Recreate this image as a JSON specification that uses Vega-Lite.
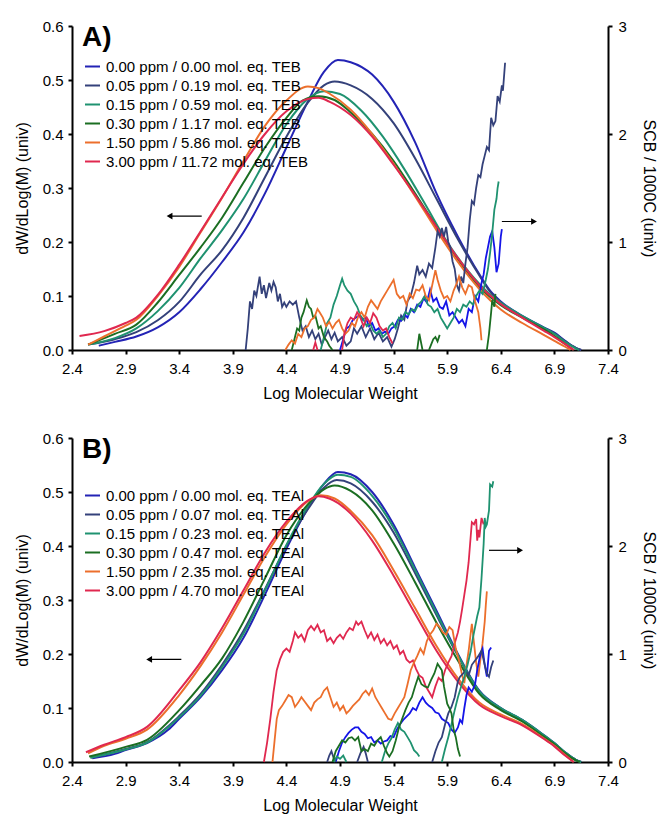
{
"$schema": "https://vega.github.io/schema/vega-lite/v6.json",
"padding": {"top": 19, "left": 14, "right": 2, "bottom": 5},
"spacing": 30,
"config": {
 "font": "Liberation Sans",
 "view": {"stroke": null},
 "axis": {"grid": false, "labelFlush": false, "labelOverlap": false, "domainColor": "#000", "domainWidth": 2, "tickColor": "#000", "tickWidth": 2, "tickSize": 4, "labelColor": "#000", "labelFontSize": 15, "titleFontSize": 16, "titleFontWeight": "normal", "titleColor": "#000", "labelPadding": 5},
 "axisX": {"labelPadding": 7, "titlePadding": 9},
 "axisLeft": {"titlePadding": 12},
 "axisRight": {"titlePadding": 14, "labelPadding": 6},
 "legend": {"orient": "none", "title": null, "symbolType": "stroke", "symbolStrokeWidth": 2, "symbolSize": 225, "labelFontSize": 15, "labelColor": "#000", "rowPadding": 2, "labelOffset": 5, "labelLimit": 400}
},
"datasets": {
 "mwdA": [
  {"c":0,"x":2.65,"y":0.008},{"c":0,"x":2.8,"y":0.015},{"c":0,"x":3.0,"y":0.025},{"c":0,"x":3.2,"y":0.042},{"c":0,"x":3.4,"y":0.07},{"c":0,"x":3.6,"y":0.113},{"c":0,"x":3.8,"y":0.163},{"c":0,"x":4.0,"y":0.218},{"c":0,"x":4.2,"y":0.29},{"c":0,"x":4.4,"y":0.375},{"c":0,"x":4.6,"y":0.46},{"c":0,"x":4.75,"y":0.515},{"c":0,"x":4.88,"y":0.537},{"c":0,"x":5.0,"y":0.533},{"c":0,"x":5.2,"y":0.51},{"c":0,"x":5.4,"y":0.46},{"c":0,"x":5.6,"y":0.385},{"c":0,"x":5.8,"y":0.29},{"c":0,"x":6.0,"y":0.21},{"c":0,"x":6.2,"y":0.14},{"c":0,"x":6.3,"y":0.11},{"c":0,"x":6.4,"y":0.09},{"c":0,"x":6.6,"y":0.063},{"c":0,"x":6.8,"y":0.042},{"c":0,"x":6.9,"y":0.032},{"c":0,"x":7.0,"y":0.017},{"c":0,"x":7.1,"y":0.004},{"c":0,"x":7.15,"y":0},
  {"c":1,"x":2.55,"y":0.01},{"c":1,"x":2.8,"y":0.02},{"c":1,"x":3.0,"y":0.033},{"c":1,"x":3.2,"y":0.055},{"c":1,"x":3.4,"y":0.089},{"c":1,"x":3.6,"y":0.14},{"c":1,"x":3.8,"y":0.185},{"c":1,"x":4.0,"y":0.245},{"c":1,"x":4.2,"y":0.32},{"c":1,"x":4.4,"y":0.395},{"c":1,"x":4.6,"y":0.458},{"c":1,"x":4.75,"y":0.49},{"c":1,"x":4.85,"y":0.497},{"c":1,"x":5.0,"y":0.49},{"c":1,"x":5.2,"y":0.465},{"c":1,"x":5.4,"y":0.42},{"c":1,"x":5.6,"y":0.355},{"c":1,"x":5.8,"y":0.28},{"c":1,"x":6.0,"y":0.205},{"c":1,"x":6.2,"y":0.138},{"c":1,"x":6.3,"y":0.108},{"c":1,"x":6.4,"y":0.088},{"c":1,"x":6.6,"y":0.062},{"c":1,"x":6.8,"y":0.041},{"c":1,"x":6.9,"y":0.031},{"c":1,"x":7.0,"y":0.016},{"c":1,"x":7.1,"y":0.004},{"c":1,"x":7.15,"y":0},
  {"c":2,"x":2.55,"y":0.01},{"c":2,"x":2.8,"y":0.022},{"c":2,"x":3.0,"y":0.04},{"c":2,"x":3.2,"y":0.072},{"c":2,"x":3.4,"y":0.115},{"c":2,"x":3.6,"y":0.17},{"c":2,"x":3.8,"y":0.222},{"c":2,"x":4.0,"y":0.28},{"c":2,"x":4.2,"y":0.35},{"c":2,"x":4.4,"y":0.418},{"c":2,"x":4.6,"y":0.465},{"c":2,"x":4.75,"y":0.479},{"c":2,"x":4.9,"y":0.474},{"c":2,"x":5.1,"y":0.443},{"c":2,"x":5.3,"y":0.395},{"c":2,"x":5.5,"y":0.335},{"c":2,"x":5.7,"y":0.268},{"c":2,"x":5.9,"y":0.2},{"c":2,"x":6.1,"y":0.145},{"c":2,"x":6.3,"y":0.103},{"c":2,"x":6.5,"y":0.075},{"c":2,"x":6.7,"y":0.052},{"c":2,"x":6.9,"y":0.03},{"c":2,"x":7.0,"y":0.015},{"c":2,"x":7.1,"y":0.003},{"c":2,"x":7.13,"y":0},
  {"c":3,"x":2.55,"y":0.01},{"c":3,"x":2.8,"y":0.03},{"c":3,"x":3.0,"y":0.047},{"c":3,"x":3.2,"y":0.088},{"c":3,"x":3.4,"y":0.139},{"c":3,"x":3.6,"y":0.19},{"c":3,"x":3.8,"y":0.245},{"c":3,"x":4.0,"y":0.31},{"c":3,"x":4.2,"y":0.375},{"c":3,"x":4.4,"y":0.43},{"c":3,"x":4.55,"y":0.462},{"c":3,"x":4.7,"y":0.47},{"c":3,"x":4.85,"y":0.463},{"c":3,"x":5.0,"y":0.44},{"c":3,"x":5.2,"y":0.4},{"c":3,"x":5.4,"y":0.35},{"c":3,"x":5.6,"y":0.29},{"c":3,"x":5.8,"y":0.228},{"c":3,"x":6.0,"y":0.168},{"c":3,"x":6.2,"y":0.117},{"c":3,"x":6.4,"y":0.083},{"c":3,"x":6.6,"y":0.06},{"c":3,"x":6.8,"y":0.038},{"c":3,"x":6.9,"y":0.026},{"c":3,"x":7.0,"y":0.011},{"c":3,"x":7.08,"y":0},
  {"c":4,"x":2.55,"y":0.01},{"c":4,"x":2.7,"y":0.025},{"c":4,"x":2.9,"y":0.045},{"c":4,"x":3.0,"y":0.056},{"c":4,"x":3.2,"y":0.1},{"c":4,"x":3.4,"y":0.154},{"c":4,"x":3.6,"y":0.218},{"c":4,"x":3.8,"y":0.282},{"c":4,"x":4.0,"y":0.35},{"c":4,"x":4.2,"y":0.415},{"c":4,"x":4.4,"y":0.462},{"c":4,"x":4.6,"y":0.488},{"c":4,"x":4.7,"y":0.485},{"c":4,"x":4.8,"y":0.475},{"c":4,"x":5.0,"y":0.445},{"c":4,"x":5.2,"y":0.4},{"c":4,"x":5.4,"y":0.345},{"c":4,"x":5.6,"y":0.285},{"c":4,"x":5.8,"y":0.222},{"c":4,"x":6.0,"y":0.163},{"c":4,"x":6.2,"y":0.113},{"c":4,"x":6.4,"y":0.075},{"c":4,"x":6.6,"y":0.05},{"c":4,"x":6.8,"y":0.028},{"c":4,"x":6.9,"y":0.017},{"c":4,"x":7.0,"y":0.006},{"c":4,"x":7.05,"y":0},
  {"c":5,"x":2.47,"y":0.026},{"c":5,"x":2.7,"y":0.035},{"c":5,"x":2.9,"y":0.05},{"c":5,"x":3.0,"y":0.06},{"c":5,"x":3.2,"y":0.102},{"c":5,"x":3.4,"y":0.158},{"c":5,"x":3.6,"y":0.22},{"c":5,"x":3.8,"y":0.283},{"c":5,"x":4.0,"y":0.345},{"c":5,"x":4.2,"y":0.4},{"c":5,"x":4.4,"y":0.442},{"c":5,"x":4.6,"y":0.465},{"c":5,"x":4.7,"y":0.467},{"c":5,"x":4.8,"y":0.46},{"c":5,"x":5.0,"y":0.435},{"c":5,"x":5.2,"y":0.395},{"c":5,"x":5.4,"y":0.343},{"c":5,"x":5.6,"y":0.287},{"c":5,"x":5.8,"y":0.228},{"c":5,"x":6.0,"y":0.17},{"c":5,"x":6.2,"y":0.12},{"c":5,"x":6.4,"y":0.085},{"c":5,"x":6.6,"y":0.06},{"c":5,"x":6.8,"y":0.036},{"c":5,"x":6.9,"y":0.024},{"c":5,"x":7.0,"y":0.011},{"c":5,"x":7.08,"y":0}
 ],
 "scbA": [
  {"c":1,"s":0,"x":4.02,"v":0},{"c":1,"s":0,"x":4.04,"v":0.2},{"c":1,"s":0,"x":4.06,"v":0.45},{"c":1,"s":0,"x":4.08,"v":0.38},{"c":1,"s":0,"x":4.1,"v":0.55},{"c":1,"s":0,"x":4.12,"v":0.5},{"c":1,"s":0,"x":4.15,"v":0.68},{"c":1,"s":0,"x":4.17,"v":0.52},{"c":1,"s":0,"x":4.19,"v":0.6},{"c":1,"s":0,"x":4.21,"v":0.48},{"c":1,"s":0,"x":4.24,"v":0.62},{"c":1,"s":0,"x":4.26,"v":0.55},{"c":1,"s":0,"x":4.28,"v":0.63},{"c":1,"s":0,"x":4.3,"v":0.58},{"c":1,"s":0,"x":4.32,"v":0.45},{"c":1,"s":0,"x":4.34,"v":0.52},{"c":1,"s":0,"x":4.36,"v":0.4},{"c":1,"s":0,"x":4.38,"v":0.44},{"c":1,"s":0,"x":4.4,"v":0.4},{"c":1,"s":0,"x":4.43,"v":0.45},{"c":1,"s":0,"x":4.46,"v":0.42},{"c":1,"s":0,"x":4.49,"v":0.45},{"c":1,"s":0,"x":4.52,"v":0.3},{"c":1,"s":0,"x":4.55,"v":0.18},{"c":1,"s":0,"x":4.58,"v":0.22},{"c":1,"s":0,"x":4.61,"v":0.12},{"c":1,"s":0,"x":4.64,"v":0.18},{"c":1,"s":0,"x":4.67,"v":0.1},{"c":1,"s":0,"x":4.7,"v":0.15},{"c":1,"s":0,"x":4.73,"v":0.05},{"c":1,"s":0,"x":4.76,"v":0.12},{"c":1,"s":0,"x":4.79,"v":0.18},{"c":1,"s":0,"x":4.82,"v":0.1},{"c":1,"s":0,"x":4.85,"v":0.16},{"c":1,"s":0,"x":4.88,"v":0.08},{"c":1,"s":0,"x":4.92,"v":0.12},{"c":1,"s":0,"x":4.96,"v":0.04},{"c":1,"s":0,"x":5.0,"v":0.08},{"c":1,"s":0,"x":5.03,"v":0.2},{"c":1,"s":0,"x":5.06,"v":0.15},{"c":1,"s":0,"x":5.1,"v":0.22},{"c":1,"s":0,"x":5.14,"v":0.12},{"c":1,"s":0,"x":5.18,"v":0.2},{"c":1,"s":0,"x":5.22,"v":0.1},{"c":1,"s":0,"x":5.26,"v":0.16},{"c":1,"s":0,"x":5.3,"v":0.08},{"c":1,"s":0,"x":5.34,"v":0.12},{"c":1,"s":0,"x":5.38,"v":0.03},{"c":1,"s":0,"x":5.41,"v":0.1},{"c":1,"s":0,"x":5.44,"v":0.2},{"c":1,"s":0,"x":5.47,"v":0.32},{"c":1,"s":0,"x":5.5,"v":0.28},{"c":1,"s":0,"x":5.53,"v":0.45},{"c":1,"s":0,"x":5.56,"v":0.5},{"c":1,"s":0,"x":5.59,"v":0.62},{"c":1,"s":0,"x":5.62,"v":0.78},{"c":1,"s":0,"x":5.64,"v":0.7},{"c":1,"s":0,"x":5.67,"v":0.74},{"c":1,"s":0,"x":5.7,"v":0.68},{"c":1,"s":0,"x":5.73,"v":0.8},{"c":1,"s":0,"x":5.76,"v":0.76},{"c":1,"s":0,"x":5.79,"v":0.95},{"c":1,"s":0,"x":5.81,"v":1.1},{"c":1,"s":0,"x":5.83,"v":1.05},{"c":1,"s":0,"x":5.85,"v":1.13},{"c":1,"s":0,"x":5.87,"v":1.05},{"c":1,"s":0,"x":5.89,"v":1.14},{"c":1,"s":0,"x":5.91,"v":1.0},{"c":1,"s":0,"x":5.93,"v":0.95},{"c":1,"s":0,"x":5.95,"v":0.82},{"c":1,"s":0,"x":5.97,"v":0.75},{"c":1,"s":0,"x":5.99,"v":0.6},{"c":1,"s":0,"x":6.01,"v":0.55},{"c":1,"s":0,"x":6.03,"v":0.68},{"c":1,"s":0,"x":6.05,"v":0.62},{"c":1,"s":0,"x":6.07,"v":0.8},{"c":1,"s":0,"x":6.09,"v":0.95},{"c":1,"s":0,"x":6.11,"v":1.2},{"c":1,"s":0,"x":6.13,"v":1.38},{"c":1,"s":0,"x":6.15,"v":1.35},{"c":1,"s":0,"x":6.17,"v":1.5},{"c":1,"s":0,"x":6.19,"v":1.62},{"c":1,"s":0,"x":6.21,"v":1.6},{"c":1,"s":0,"x":6.23,"v":1.72},{"c":1,"s":0,"x":6.25,"v":1.8},{"c":1,"s":0,"x":6.27,"v":1.88},{"c":1,"s":0,"x":6.29,"v":1.85},{"c":1,"s":0,"x":6.31,"v":2.15},{"c":1,"s":0,"x":6.33,"v":2.08},{"c":1,"s":0,"x":6.35,"v":2.12},{"c":1,"s":0,"x":6.37,"v":2.35},{"c":1,"s":0,"x":6.39,"v":2.3},{"c":1,"s":0,"x":6.41,"v":2.45},{"c":1,"s":0,"x":6.42,"v":2.4},{"c":1,"s":0,"x":6.44,"v":2.66},
  {"c":0,"s":0,"x":4.9,"v":0},{"c":0,"s":0,"x":4.93,"v":0.1},{"c":0,"s":0,"x":4.96,"v":0.2},{"c":0,"s":0,"x":4.99,"v":0.22},{"c":0,"s":0,"x":5.02,"v":0.28},{"c":0,"s":0,"x":5.05,"v":0.3},{"c":0,"s":0,"x":5.08,"v":0.32},{"c":0,"s":0,"x":5.11,"v":0.28},{"c":0,"s":0,"x":5.14,"v":0.3},{"c":0,"s":0,"x":5.17,"v":0.22},{"c":0,"s":0,"x":5.2,"v":0.25},{"c":0,"s":0,"x":5.23,"v":0.18},{"c":0,"s":0,"x":5.26,"v":0.2},{"c":0,"s":0,"x":5.29,"v":0.15},{"c":0,"s":0,"x":5.32,"v":0.17},{"c":0,"s":0,"x":5.35,"v":0.15},{"c":0,"s":0,"x":5.38,"v":0.2},{"c":0,"s":0,"x":5.41,"v":0.22},{"c":0,"s":0,"x":5.44,"v":0.28},{"c":0,"s":0,"x":5.47,"v":0.27},{"c":0,"s":0,"x":5.5,"v":0.33},{"c":0,"s":0,"x":5.53,"v":0.3},{"c":0,"s":0,"x":5.56,"v":0.38},{"c":0,"s":0,"x":5.59,"v":0.35},{"c":0,"s":0,"x":5.62,"v":0.42},{"c":0,"s":0,"x":5.65,"v":0.4},{"c":0,"s":0,"x":5.68,"v":0.48},{"c":0,"s":0,"x":5.71,"v":0.44},{"c":0,"s":0,"x":5.74,"v":0.56},{"c":0,"s":0,"x":5.77,"v":0.45},{"c":0,"s":0,"x":5.8,"v":0.48},{"c":0,"s":0,"x":5.83,"v":0.4},{"c":0,"s":0,"x":5.86,"v":0.38},{"c":0,"s":0,"x":5.89,"v":0.45},{"c":0,"s":0,"x":5.92,"v":0.32},{"c":0,"s":0,"x":5.95,"v":0.35},{"c":0,"s":0,"x":5.98,"v":0.3},{"c":0,"s":0,"x":6.01,"v":0.25},{"c":0,"s":0,"x":6.04,"v":0.28},{"c":0,"s":0,"x":6.07,"v":0.22},{"c":0,"s":0,"x":6.1,"v":0.38},{"c":0,"s":0,"x":6.13,"v":0.35},{"c":0,"s":0,"x":6.16,"v":0.5},{"c":0,"s":0,"x":6.19,"v":0.45},{"c":0,"s":0,"x":6.22,"v":0.62},{"c":0,"s":0,"x":6.24,"v":0.7},{"c":0,"s":0,"x":6.26,"v":0.85},{"c":0,"s":0,"x":6.28,"v":0.95},{"c":0,"s":0,"x":6.3,"v":1.05},{"c":0,"s":0,"x":6.32,"v":1.1},{"c":0,"s":0,"x":6.34,"v":0.95},{"c":0,"s":0,"x":6.36,"v":0.72},{"c":0,"s":0,"x":6.38,"v":0.8},{"c":0,"s":0,"x":6.4,"v":1.05},{"c":0,"s":0,"x":6.41,"v":1.12},
  {"c":2,"s":0,"x":4.72,"v":0},{"c":2,"s":0,"x":4.75,"v":0.12},{"c":2,"s":0,"x":4.78,"v":0.25},{"c":2,"s":0,"x":4.81,"v":0.3},{"c":2,"s":0,"x":4.84,"v":0.42},{"c":2,"s":0,"x":4.87,"v":0.5},{"c":2,"s":0,"x":4.9,"v":0.6},{"c":2,"s":0,"x":4.92,"v":0.66},{"c":2,"s":0,"x":4.94,"v":0.6},{"c":2,"s":0,"x":4.97,"v":0.55},{"c":2,"s":0,"x":5.0,"v":0.52},{"c":2,"s":0,"x":5.03,"v":0.45},{"c":2,"s":0,"x":5.06,"v":0.4},{"c":2,"s":0,"x":5.09,"v":0.32},{"c":2,"s":0,"x":5.12,"v":0.28},{"c":2,"s":0,"x":5.15,"v":0.22},{"c":2,"s":0,"x":5.18,"v":0.25},{"c":2,"s":0,"x":5.21,"v":0.18},{"c":2,"s":0,"x":5.24,"v":0.15},{"c":2,"s":0,"x":5.27,"v":0.18},{"c":2,"s":0,"x":5.3,"v":0.12},{"c":2,"s":0,"x":5.33,"v":0.15},{"c":2,"s":0,"x":5.36,"v":0.22},{"c":2,"s":0,"x":5.39,"v":0.25},{"c":2,"s":0,"x":5.42,"v":0.2},{"c":2,"s":0,"x":5.45,"v":0.3},{"c":2,"s":0,"x":5.48,"v":0.28},{"c":2,"s":0,"x":5.51,"v":0.35},{"c":2,"s":0,"x":5.54,"v":0.33},{"c":2,"s":0,"x":5.57,"v":0.38},{"c":2,"s":0,"x":5.6,"v":0.36},{"c":2,"s":0,"x":5.63,"v":0.42},{"c":2,"s":0,"x":5.66,"v":0.45},{"c":2,"s":0,"x":5.69,"v":0.5},{"c":2,"s":0,"x":5.72,"v":0.42},{"c":2,"s":0,"x":5.75,"v":0.4},{"c":2,"s":0,"x":5.78,"v":0.35},{"c":2,"s":0,"x":5.81,"v":0.38},{"c":2,"s":0,"x":5.84,"v":0.3},{"c":2,"s":0,"x":5.87,"v":0.25},{"c":2,"s":0,"x":5.9,"v":0.2},{"c":2,"s":0,"x":5.93,"v":0.25},{"c":2,"s":0,"x":5.96,"v":0.3},{"c":2,"s":0,"x":5.99,"v":0.38},{"c":2,"s":0,"x":6.02,"v":0.35},{"c":2,"s":0,"x":6.05,"v":0.42},{"c":2,"s":0,"x":6.08,"v":0.4},{"c":2,"s":0,"x":6.11,"v":0.45},{"c":2,"s":0,"x":6.14,"v":0.42},{"c":2,"s":0,"x":6.17,"v":0.5},{"c":2,"s":0,"x":6.2,"v":0.55},{"c":2,"s":0,"x":6.23,"v":0.52},{"c":2,"s":0,"x":6.26,"v":0.65},{"c":2,"s":0,"x":6.28,"v":0.75},{"c":2,"s":0,"x":6.3,"v":0.9},{"c":2,"s":0,"x":6.32,"v":1.08},{"c":2,"s":0,"x":6.34,"v":1.3},{"c":2,"s":0,"x":6.36,"v":1.4},{"c":2,"s":0,"x":6.37,"v":1.5},{"c":2,"s":0,"x":6.38,"v":1.56},
  {"c":3,"s":0,"x":4.45,"v":0},{"c":3,"s":0,"x":4.48,"v":0.12},{"c":3,"s":0,"x":4.5,"v":0.2},{"c":3,"s":0,"x":4.52,"v":0.18},{"c":3,"s":0,"x":4.54,"v":0.3},{"c":3,"s":0,"x":4.56,"v":0.35},{"c":3,"s":0,"x":4.59,"v":0.46},{"c":3,"s":0,"x":4.61,"v":0.4},{"c":3,"s":0,"x":4.63,"v":0.38},{"c":3,"s":0,"x":4.65,"v":0.3},{"c":3,"s":0,"x":4.67,"v":0.32},{"c":3,"s":0,"x":4.7,"v":0.2},{"c":3,"s":0,"x":4.72,"v":0.22},{"c":3,"s":0,"x":4.75,"v":0.12},{"c":3,"s":0,"x":4.78,"v":0.08},{"c":3,"s":0,"x":4.8,"v":0.04},{"c":3,"s":0,"x":4.83,"v":0},
  {"c":3,"s":1,"x":5.62,"v":0},{"c":3,"s":1,"x":5.64,"v":0.15},{"c":3,"s":1,"x":5.66,"v":0.05},{"c":3,"s":1,"x":5.67,"v":0},
  {"c":3,"s":2,"x":5.73,"v":0},{"c":3,"s":2,"x":5.75,"v":0.05},{"c":3,"s":2,"x":5.77,"v":0.1},{"c":3,"s":2,"x":5.79,"v":0.12},{"c":3,"s":2,"x":5.81,"v":0.08},{"c":3,"s":2,"x":5.83,"v":0.14},
  {"c":3,"s":3,"x":6.27,"v":0},{"c":3,"s":3,"x":6.29,"v":0.15},{"c":3,"s":3,"x":6.31,"v":0.35},{"c":3,"s":3,"x":6.32,"v":0.46},{"c":3,"s":3,"x":6.34,"v":0.4},{"c":3,"s":3,"x":6.35,"v":0.52},
  {"c":4,"s":0,"x":4.39,"v":0},{"c":4,"s":0,"x":4.42,"v":0.05},{"c":4,"s":0,"x":4.45,"v":0.09},{"c":4,"s":0,"x":4.48,"v":0.06},{"c":4,"s":0,"x":4.51,"v":0.15},{"c":4,"s":0,"x":4.54,"v":0.12},{"c":4,"s":0,"x":4.57,"v":0.2},{"c":4,"s":0,"x":4.6,"v":0.22},{"c":4,"s":0,"x":4.63,"v":0.28},{"c":4,"s":0,"x":4.66,"v":0.3},{"c":4,"s":0,"x":4.69,"v":0.38},{"c":4,"s":0,"x":4.71,"v":0.35},{"c":4,"s":0,"x":4.74,"v":0.3},{"c":4,"s":0,"x":4.77,"v":0.22},{"c":4,"s":0,"x":4.8,"v":0.26},{"c":4,"s":0,"x":4.83,"v":0.2},{"c":4,"s":0,"x":4.86,"v":0.25},{"c":4,"s":0,"x":4.89,"v":0.28},{"c":4,"s":0,"x":4.92,"v":0.2},{"c":4,"s":0,"x":4.95,"v":0.15},{"c":4,"s":0,"x":4.98,"v":0.18},{"c":4,"s":0,"x":5.01,"v":0.25},{"c":4,"s":0,"x":5.04,"v":0.22},{"c":4,"s":0,"x":5.07,"v":0.31},{"c":4,"s":0,"x":5.1,"v":0.35},{"c":4,"s":0,"x":5.13,"v":0.3},{"c":4,"s":0,"x":5.16,"v":0.4},{"c":4,"s":0,"x":5.19,"v":0.46},{"c":4,"s":0,"x":5.22,"v":0.42},{"c":4,"s":0,"x":5.25,"v":0.38},{"c":4,"s":0,"x":5.28,"v":0.45},{"c":4,"s":0,"x":5.31,"v":0.5},{"c":4,"s":0,"x":5.34,"v":0.55},{"c":4,"s":0,"x":5.37,"v":0.6},{"c":4,"s":0,"x":5.4,"v":0.65},{"c":4,"s":0,"x":5.43,"v":0.52},{"c":4,"s":0,"x":5.46,"v":0.48},{"c":4,"s":0,"x":5.49,"v":0.5},{"c":4,"s":0,"x":5.52,"v":0.42},{"c":4,"s":0,"x":5.55,"v":0.52},{"c":4,"s":0,"x":5.58,"v":0.48},{"c":4,"s":0,"x":5.61,"v":0.56},{"c":4,"s":0,"x":5.64,"v":0.55},{"c":4,"s":0,"x":5.67,"v":0.6},{"c":4,"s":0,"x":5.7,"v":0.5},{"c":4,"s":0,"x":5.73,"v":0.46},{"c":4,"s":0,"x":5.76,"v":0.6},{"c":4,"s":0,"x":5.79,"v":0.74},{"c":4,"s":0,"x":5.81,"v":0.65},{"c":4,"s":0,"x":5.84,"v":0.55},{"c":4,"s":0,"x":5.87,"v":0.48},{"c":4,"s":0,"x":5.9,"v":0.5},{"c":4,"s":0,"x":5.93,"v":0.45},{"c":4,"s":0,"x":5.96,"v":0.55},{"c":4,"s":0,"x":5.99,"v":0.62},{"c":4,"s":0,"x":6.01,"v":0.68},{"c":4,"s":0,"x":6.04,"v":0.58},{"c":4,"s":0,"x":6.07,"v":0.52},{"c":4,"s":0,"x":6.1,"v":0.6},{"c":4,"s":0,"x":6.13,"v":0.58},{"c":4,"s":0,"x":6.16,"v":0.45},{"c":4,"s":0,"x":6.19,"v":0.35},{"c":4,"s":0,"x":6.21,"v":0.2},{"c":4,"s":0,"x":6.22,"v":0.09},
  {"c":5,"s":0,"x":4.65,"v":0},{"c":5,"s":0,"x":4.67,"v":0.07},{"c":5,"s":0,"x":4.69,"v":0},
  {"c":5,"s":1,"x":4.92,"v":0},{"c":5,"s":1,"x":4.94,"v":0.15},{"c":5,"s":1,"x":4.97,"v":0.25},{"c":5,"s":1,"x":5.0,"v":0.3},{"c":5,"s":1,"x":5.03,"v":0.28},{"c":5,"s":1,"x":5.06,"v":0.35},{"c":5,"s":1,"x":5.09,"v":0.3},{"c":5,"s":1,"x":5.12,"v":0.22},{"c":5,"s":1,"x":5.15,"v":0.3},{"c":5,"s":1,"x":5.18,"v":0.25},{"c":5,"s":1,"x":5.21,"v":0.34},{"c":5,"s":1,"x":5.24,"v":0.3},{"c":5,"s":1,"x":5.27,"v":0.22},{"c":5,"s":1,"x":5.3,"v":0.18},{"c":5,"s":1,"x":5.33,"v":0.2},{"c":5,"s":1,"x":5.36,"v":0.12},{"c":5,"s":1,"x":5.39,"v":0.06}
 ],
 "mwdB": [
  {"c":0,"x":2.59,"y":0.007},{"c":0,"x":2.8,"y":0.015},{"c":0,"x":2.9,"y":0.022},{"c":0,"x":3.1,"y":0.035},{"c":0,"x":3.3,"y":0.06},{"c":0,"x":3.4,"y":0.08},{"c":0,"x":3.6,"y":0.12},{"c":0,"x":3.8,"y":0.17},{"c":0,"x":4.0,"y":0.23},{"c":0,"x":4.2,"y":0.31},{"c":0,"x":4.4,"y":0.395},{"c":0,"x":4.6,"y":0.47},{"c":0,"x":4.75,"y":0.515},{"c":0,"x":4.88,"y":0.537},{"c":0,"x":5.0,"y":0.533},{"c":0,"x":5.2,"y":0.5},{"c":0,"x":5.4,"y":0.44},{"c":0,"x":5.6,"y":0.36},{"c":0,"x":5.8,"y":0.28},{"c":0,"x":6.0,"y":0.2},{"c":0,"x":6.2,"y":0.132},{"c":0,"x":6.4,"y":0.1},{"c":0,"x":6.6,"y":0.078},{"c":0,"x":6.8,"y":0.05},{"c":0,"x":6.9,"y":0.035},{"c":0,"x":7.0,"y":0.018},{"c":0,"x":7.1,"y":0.004},{"c":0,"x":7.15,"y":0},
  {"c":1,"x":2.58,"y":0.008},{"c":1,"x":2.9,"y":0.024},{"c":1,"x":3.1,"y":0.037},{"c":1,"x":3.4,"y":0.085},{"c":1,"x":3.6,"y":0.126},{"c":1,"x":3.8,"y":0.18},{"c":1,"x":4.0,"y":0.243},{"c":1,"x":4.2,"y":0.32},{"c":1,"x":4.4,"y":0.4},{"c":1,"x":4.6,"y":0.468},{"c":1,"x":4.75,"y":0.508},{"c":1,"x":4.87,"y":0.522},{"c":1,"x":5.0,"y":0.516},{"c":1,"x":5.2,"y":0.482},{"c":1,"x":5.4,"y":0.425},{"c":1,"x":5.6,"y":0.35},{"c":1,"x":5.8,"y":0.272},{"c":1,"x":6.0,"y":0.197},{"c":1,"x":6.2,"y":0.13},{"c":1,"x":6.4,"y":0.099},{"c":1,"x":6.6,"y":0.077},{"c":1,"x":6.8,"y":0.049},{"c":1,"x":6.9,"y":0.034},{"c":1,"x":7.0,"y":0.017},{"c":1,"x":7.1,"y":0.004},{"c":1,"x":7.15,"y":0},
  {"c":2,"x":2.57,"y":0.008},{"c":2,"x":2.9,"y":0.023},{"c":2,"x":3.1,"y":0.036},{"c":2,"x":3.4,"y":0.083},{"c":2,"x":3.6,"y":0.123},{"c":2,"x":3.8,"y":0.176},{"c":2,"x":4.0,"y":0.238},{"c":2,"x":4.2,"y":0.318},{"c":2,"x":4.4,"y":0.402},{"c":2,"x":4.6,"y":0.474},{"c":2,"x":4.75,"y":0.515},{"c":2,"x":4.88,"y":0.532},{"c":2,"x":5.0,"y":0.528},{"c":2,"x":5.2,"y":0.493},{"c":2,"x":5.4,"y":0.434},{"c":2,"x":5.6,"y":0.356},{"c":2,"x":5.8,"y":0.276},{"c":2,"x":6.0,"y":0.198},{"c":2,"x":6.2,"y":0.131},{"c":2,"x":6.4,"y":0.1},{"c":2,"x":6.6,"y":0.078},{"c":2,"x":6.8,"y":0.05},{"c":2,"x":6.9,"y":0.035},{"c":2,"x":7.0,"y":0.018},{"c":2,"x":7.1,"y":0.004},{"c":2,"x":7.15,"y":0},
  {"c":3,"x":2.56,"y":0.01},{"c":3,"x":2.9,"y":0.028},{"c":3,"x":3.1,"y":0.041},{"c":3,"x":3.4,"y":0.096},{"c":3,"x":3.6,"y":0.142},{"c":3,"x":3.8,"y":0.192},{"c":3,"x":4.0,"y":0.26},{"c":3,"x":4.2,"y":0.34},{"c":3,"x":4.4,"y":0.42},{"c":3,"x":4.6,"y":0.477},{"c":3,"x":4.75,"y":0.505},{"c":3,"x":4.85,"y":0.512},{"c":3,"x":5.0,"y":0.502},{"c":3,"x":5.2,"y":0.466},{"c":3,"x":5.4,"y":0.405},{"c":3,"x":5.6,"y":0.333},{"c":3,"x":5.8,"y":0.258},{"c":3,"x":6.0,"y":0.188},{"c":3,"x":6.2,"y":0.126},{"c":3,"x":6.4,"y":0.096},{"c":3,"x":6.6,"y":0.075},{"c":3,"x":6.8,"y":0.047},{"c":3,"x":6.9,"y":0.033},{"c":3,"x":7.0,"y":0.016},{"c":3,"x":7.1,"y":0.003},{"c":3,"x":7.14,"y":0},
  {"c":4,"x":2.55,"y":0.016},{"c":4,"x":2.7,"y":0.03},{"c":4,"x":2.9,"y":0.043},{"c":4,"x":3.1,"y":0.06},{"c":4,"x":3.4,"y":0.124},{"c":4,"x":3.6,"y":0.178},{"c":4,"x":3.8,"y":0.24},{"c":4,"x":4.0,"y":0.31},{"c":4,"x":4.2,"y":0.38},{"c":4,"x":4.4,"y":0.44},{"c":4,"x":4.6,"y":0.483},{"c":4,"x":4.72,"y":0.494},{"c":4,"x":4.85,"y":0.488},{"c":4,"x":5.0,"y":0.465},{"c":4,"x":5.2,"y":0.42},{"c":4,"x":5.4,"y":0.355},{"c":4,"x":5.6,"y":0.285},{"c":4,"x":5.8,"y":0.215},{"c":4,"x":6.0,"y":0.155},{"c":4,"x":6.2,"y":0.11},{"c":4,"x":6.4,"y":0.088},{"c":4,"x":6.6,"y":0.07},{"c":4,"x":6.8,"y":0.044},{"c":4,"x":6.9,"y":0.03},{"c":4,"x":7.0,"y":0.013},{"c":4,"x":7.08,"y":0},
  {"c":5,"x":2.53,"y":0.018},{"c":5,"x":2.7,"y":0.032},{"c":5,"x":2.9,"y":0.046},{"c":5,"x":3.1,"y":0.065},{"c":5,"x":3.4,"y":0.133},{"c":5,"x":3.6,"y":0.185},{"c":5,"x":3.8,"y":0.248},{"c":5,"x":4.0,"y":0.318},{"c":5,"x":4.2,"y":0.388},{"c":5,"x":4.4,"y":0.445},{"c":5,"x":4.6,"y":0.484},{"c":5,"x":4.7,"y":0.492},{"c":5,"x":4.8,"y":0.488},{"c":5,"x":5.0,"y":0.46},{"c":5,"x":5.2,"y":0.41},{"c":5,"x":5.4,"y":0.345},{"c":5,"x":5.6,"y":0.275},{"c":5,"x":5.8,"y":0.206},{"c":5,"x":6.0,"y":0.149},{"c":5,"x":6.2,"y":0.106},{"c":5,"x":6.4,"y":0.085},{"c":5,"x":6.6,"y":0.068},{"c":5,"x":6.8,"y":0.043},{"c":5,"x":6.9,"y":0.029},{"c":5,"x":7.0,"y":0.012},{"c":5,"x":7.08,"y":0}
 ],
 "scbB": [
  {"c":5,"s":0,"x":4.19,"v":0},{"c":5,"s":0,"x":4.22,"v":0.18},{"c":5,"s":0,"x":4.25,"v":0.4},{"c":5,"s":0,"x":4.28,"v":0.65},{"c":5,"s":0,"x":4.31,"v":0.85},{"c":5,"s":0,"x":4.34,"v":0.95},{"c":5,"s":0,"x":4.37,"v":1.02},{"c":5,"s":0,"x":4.4,"v":1.05},{"c":5,"s":0,"x":4.43,"v":1.02},{"c":5,"s":0,"x":4.46,"v":1.12},{"c":5,"s":0,"x":4.48,"v":1.2},{"c":5,"s":0,"x":4.51,"v":1.15},{"c":5,"s":0,"x":4.54,"v":1.18},{"c":5,"s":0,"x":4.57,"v":1.12},{"c":5,"s":0,"x":4.6,"v":1.22},{"c":5,"s":0,"x":4.63,"v":1.26},{"c":5,"s":0,"x":4.66,"v":1.22},{"c":5,"s":0,"x":4.69,"v":1.27},{"c":5,"s":0,"x":4.72,"v":1.2},{"c":5,"s":0,"x":4.75,"v":1.22},{"c":5,"s":0,"x":4.78,"v":1.12},{"c":5,"s":0,"x":4.81,"v":1.15},{"c":5,"s":0,"x":4.84,"v":1.1},{"c":5,"s":0,"x":4.87,"v":1.15},{"c":5,"s":0,"x":4.9,"v":1.18},{"c":5,"s":0,"x":4.93,"v":1.14},{"c":5,"s":0,"x":4.96,"v":1.2},{"c":5,"s":0,"x":4.99,"v":1.24},{"c":5,"s":0,"x":5.02,"v":1.22},{"c":5,"s":0,"x":5.05,"v":1.3},{"c":5,"s":0,"x":5.07,"v":1.27},{"c":5,"s":0,"x":5.1,"v":1.3},{"c":5,"s":0,"x":5.13,"v":1.22},{"c":5,"s":0,"x":5.16,"v":1.15},{"c":5,"s":0,"x":5.19,"v":1.2},{"c":5,"s":0,"x":5.22,"v":1.13},{"c":5,"s":0,"x":5.25,"v":1.18},{"c":5,"s":0,"x":5.28,"v":1.1},{"c":5,"s":0,"x":5.31,"v":1.14},{"c":5,"s":0,"x":5.34,"v":1.08},{"c":5,"s":0,"x":5.37,"v":1.12},{"c":5,"s":0,"x":5.4,"v":1.05},{"c":5,"s":0,"x":5.43,"v":1.08},{"c":5,"s":0,"x":5.46,"v":1.0},{"c":5,"s":0,"x":5.49,"v":1.03},{"c":5,"s":0,"x":5.52,"v":0.95},{"c":5,"s":0,"x":5.55,"v":0.92},{"c":5,"s":0,"x":5.58,"v":0.94},{"c":5,"s":0,"x":5.61,"v":0.86},{"c":5,"s":0,"x":5.64,"v":0.8},{"c":5,"s":0,"x":5.67,"v":0.78},{"c":5,"s":0,"x":5.7,"v":0.7},{"c":5,"s":0,"x":5.73,"v":0.65},{"c":5,"s":0,"x":5.76,"v":0.6},{"c":5,"s":0,"x":5.79,"v":0.7},{"c":5,"s":0,"x":5.82,"v":0.78},{"c":5,"s":0,"x":5.85,"v":0.75},{"c":5,"s":0,"x":5.88,"v":0.85},{"c":5,"s":0,"x":5.91,"v":0.92},{"c":5,"s":0,"x":5.94,"v":0.98},{"c":5,"s":0,"x":5.97,"v":1.1},{"c":5,"s":0,"x":6.0,"v":1.2},{"c":5,"s":0,"x":6.02,"v":1.3},{"c":5,"s":0,"x":6.04,"v":1.42},{"c":5,"s":0,"x":6.06,"v":1.55},{"c":5,"s":0,"x":6.08,"v":1.68},{"c":5,"s":0,"x":6.1,"v":1.85},{"c":5,"s":0,"x":6.12,"v":2.1},{"c":5,"s":0,"x":6.13,"v":2.22},{"c":5,"s":0,"x":6.15,"v":2.2},{"c":5,"s":0,"x":6.17,"v":2.25},{"c":5,"s":0,"x":6.18,"v":2.05},{"c":5,"s":0,"x":6.19,"v":2.15},{"c":5,"s":0,"x":6.2,"v":2.08},{"c":5,"s":0,"x":6.22,"v":2.26},{"c":5,"s":0,"x":6.24,"v":2.2},
  {"c":4,"s":0,"x":4.27,"v":0},{"c":4,"s":0,"x":4.29,"v":0.2},{"c":4,"s":0,"x":4.31,"v":0.4},{"c":4,"s":0,"x":4.33,"v":0.48},{"c":4,"s":0,"x":4.36,"v":0.52},{"c":4,"s":0,"x":4.39,"v":0.57},{"c":4,"s":0,"x":4.42,"v":0.62},{"c":4,"s":0,"x":4.45,"v":0.6},{"c":4,"s":0,"x":4.48,"v":0.51},{"c":4,"s":0,"x":4.51,"v":0.55},{"c":4,"s":0,"x":4.54,"v":0.6},{"c":4,"s":0,"x":4.57,"v":0.56},{"c":4,"s":0,"x":4.6,"v":0.52},{"c":4,"s":0,"x":4.63,"v":0.48},{"c":4,"s":0,"x":4.66,"v":0.55},{"c":4,"s":0,"x":4.69,"v":0.58},{"c":4,"s":0,"x":4.72,"v":0.6},{"c":4,"s":0,"x":4.75,"v":0.66},{"c":4,"s":0,"x":4.78,"v":0.69},{"c":4,"s":0,"x":4.81,"v":0.6},{"c":4,"s":0,"x":4.84,"v":0.51},{"c":4,"s":0,"x":4.87,"v":0.55},{"c":4,"s":0,"x":4.9,"v":0.48},{"c":4,"s":0,"x":4.93,"v":0.52},{"c":4,"s":0,"x":4.96,"v":0.45},{"c":4,"s":0,"x":4.99,"v":0.48},{"c":4,"s":0,"x":5.02,"v":0.52},{"c":4,"s":0,"x":5.05,"v":0.55},{"c":4,"s":0,"x":5.08,"v":0.58},{"c":4,"s":0,"x":5.11,"v":0.63},{"c":4,"s":0,"x":5.14,"v":0.66},{"c":4,"s":0,"x":5.17,"v":0.62},{"c":4,"s":0,"x":5.2,"v":0.68},{"c":4,"s":0,"x":5.23,"v":0.6},{"c":4,"s":0,"x":5.26,"v":0.55},{"c":4,"s":0,"x":5.29,"v":0.5},{"c":4,"s":0,"x":5.32,"v":0.45},{"c":4,"s":0,"x":5.35,"v":0.4},{"c":4,"s":0,"x":5.38,"v":0.39},{"c":4,"s":0,"x":5.41,"v":0.45},{"c":4,"s":0,"x":5.44,"v":0.5},{"c":4,"s":0,"x":5.47,"v":0.55},{"c":4,"s":0,"x":5.5,"v":0.6},{"c":4,"s":0,"x":5.53,"v":0.72},{"c":4,"s":0,"x":5.56,"v":0.85},{"c":4,"s":0,"x":5.59,"v":0.92},{"c":4,"s":0,"x":5.62,"v":0.98},{"c":4,"s":0,"x":5.65,"v":1.05},{"c":4,"s":0,"x":5.68,"v":1.0},{"c":4,"s":0,"x":5.71,"v":1.12},{"c":4,"s":0,"x":5.74,"v":1.18},{"c":4,"s":0,"x":5.77,"v":1.22},{"c":4,"s":0,"x":5.8,"v":1.28},{"c":4,"s":0,"x":5.83,"v":1.25},{"c":4,"s":0,"x":5.86,"v":1.2},{"c":4,"s":0,"x":5.89,"v":1.18},{"c":4,"s":0,"x":5.92,"v":1.25},{"c":4,"s":0,"x":5.95,"v":1.22},{"c":4,"s":0,"x":5.98,"v":1.05},{"c":4,"s":0,"x":6.01,"v":0.94},{"c":4,"s":0,"x":6.04,"v":0.8},{"c":4,"s":0,"x":6.06,"v":0.73},{"c":4,"s":0,"x":6.08,"v":0.9},{"c":4,"s":0,"x":6.1,"v":1.03},{"c":4,"s":0,"x":6.12,"v":1.2},{"c":4,"s":0,"x":6.13,"v":1.28},{"c":4,"s":0,"x":6.15,"v":1.1},{"c":4,"s":0,"x":6.17,"v":0.92},{"c":4,"s":0,"x":6.19,"v":0.79},{"c":4,"s":0,"x":6.21,"v":0.95},{"c":4,"s":0,"x":6.23,"v":1.1},{"c":4,"s":0,"x":6.25,"v":1.3},{"c":4,"s":0,"x":6.26,"v":1.45},{"c":4,"s":0,"x":6.27,"v":1.58},
  {"c":0,"s":0,"x":4.86,"v":0},{"c":0,"s":0,"x":4.89,"v":0.1},{"c":0,"s":0,"x":4.92,"v":0.18},{"c":0,"s":0,"x":4.95,"v":0.23},{"c":0,"s":0,"x":4.98,"v":0.27},{"c":0,"s":0,"x":5.01,"v":0.3},{"c":0,"s":0,"x":5.04,"v":0.32},{"c":0,"s":0,"x":5.07,"v":0.32},{"c":0,"s":0,"x":5.1,"v":0.28},{"c":0,"s":0,"x":5.13,"v":0.26},{"c":0,"s":0,"x":5.16,"v":0.22},{"c":0,"s":0,"x":5.19,"v":0.23},{"c":0,"s":0,"x":5.22,"v":0.18},{"c":0,"s":0,"x":5.25,"v":0.2},{"c":0,"s":0,"x":5.28,"v":0.17},{"c":0,"s":0,"x":5.31,"v":0.19},{"c":0,"s":0,"x":5.34,"v":0.2},{"c":0,"s":0,"x":5.37,"v":0.24},{"c":0,"s":0,"x":5.4,"v":0.23},{"c":0,"s":0,"x":5.43,"v":0.3},{"c":0,"s":0,"x":5.46,"v":0.35},{"c":0,"s":0,"x":5.49,"v":0.39},{"c":0,"s":0,"x":5.52,"v":0.42},{"c":0,"s":0,"x":5.55,"v":0.45},{"c":0,"s":0,"x":5.58,"v":0.5},{"c":0,"s":0,"x":5.61,"v":0.48},{"c":0,"s":0,"x":5.64,"v":0.55},{"c":0,"s":0,"x":5.67,"v":0.6},{"c":0,"s":0,"x":5.7,"v":0.55},{"c":0,"s":0,"x":5.73,"v":0.52},{"c":0,"s":0,"x":5.76,"v":0.5},{"c":0,"s":0,"x":5.79,"v":0.46},{"c":0,"s":0,"x":5.82,"v":0.45},{"c":0,"s":0,"x":5.85,"v":0.4},{"c":0,"s":0,"x":5.88,"v":0.38},{"c":0,"s":0,"x":5.91,"v":0.36},{"c":0,"s":0,"x":5.94,"v":0.3},{"c":0,"s":0,"x":5.97,"v":0.27},{"c":0,"s":0,"x":6.0,"v":0.32},{"c":0,"s":0,"x":6.02,"v":0.39},{"c":0,"s":0,"x":6.04,"v":0.36},{"c":0,"s":0,"x":6.06,"v":0.5},{"c":0,"s":0,"x":6.08,"v":0.62},{"c":0,"s":0,"x":6.1,"v":0.69},{"c":0,"s":0,"x":6.13,"v":0.65},{"c":0,"s":0,"x":6.16,"v":0.72},{"c":0,"s":0,"x":6.18,"v":0.85},{"c":0,"s":0,"x":6.21,"v":1.0},{"c":0,"s":0,"x":6.23,"v":1.05},{"c":0,"s":0,"x":6.25,"v":0.9},{"c":0,"s":0,"x":6.27,"v":0.79},{"c":0,"s":0,"x":6.29,"v":1.03},{"c":0,"s":0,"x":6.31,"v":1.06},
  {"c":1,"s":0,"x":4.78,"v":0},{"c":1,"s":0,"x":4.8,"v":0.06},{"c":1,"s":0,"x":4.82,"v":0.1},{"c":1,"s":0,"x":4.84,"v":0.04},{"c":1,"s":0,"x":4.86,"v":0},
  {"c":1,"s":1,"x":5.06,"v":0},{"c":1,"s":1,"x":5.09,"v":0.08},{"c":1,"s":1,"x":5.12,"v":0.14},{"c":1,"s":1,"x":5.14,"v":0.08},{"c":1,"s":1,"x":5.16,"v":0},
  {"c":1,"s":2,"x":5.76,"v":0},{"c":1,"s":2,"x":5.79,"v":0.1},{"c":1,"s":2,"x":5.82,"v":0.18},{"c":1,"s":2,"x":5.85,"v":0.23},{"c":1,"s":2,"x":5.88,"v":0.35},{"c":1,"s":2,"x":5.91,"v":0.45},{"c":1,"s":2,"x":5.94,"v":0.51},{"c":1,"s":2,"x":5.97,"v":0.6},{"c":1,"s":2,"x":6.0,"v":0.75},{"c":1,"s":2,"x":6.02,"v":0.79},{"c":1,"s":2,"x":6.05,"v":0.82},{"c":1,"s":2,"x":6.07,"v":0.85},{"c":1,"s":2,"x":6.1,"v":0.8},{"c":1,"s":2,"x":6.13,"v":0.9},{"c":1,"s":2,"x":6.16,"v":0.94},{"c":1,"s":2,"x":6.19,"v":0.98},{"c":1,"s":2,"x":6.22,"v":1.03},{"c":1,"s":2,"x":6.25,"v":0.9},{"c":1,"s":2,"x":6.27,"v":0.82},{"c":1,"s":2,"x":6.29,"v":0.79},{"c":1,"s":2,"x":6.31,"v":0.88},{"c":1,"s":2,"x":6.33,"v":0.94},
  {"c":2,"s":0,"x":4.84,"v":0},{"c":2,"s":0,"x":4.87,"v":0.05},{"c":2,"s":0,"x":4.9,"v":0.03},{"c":2,"s":0,"x":4.93,"v":0.06},{"c":2,"s":0,"x":4.96,"v":0},
  {"c":2,"s":1,"x":5.29,"v":0},{"c":2,"s":1,"x":5.32,"v":0.1},{"c":2,"s":1,"x":5.35,"v":0.17},{"c":2,"s":1,"x":5.38,"v":0.22},{"c":2,"s":1,"x":5.41,"v":0.3},{"c":2,"s":1,"x":5.44,"v":0.36},{"c":2,"s":1,"x":5.47,"v":0.3},{"c":2,"s":1,"x":5.5,"v":0.28},{"c":2,"s":1,"x":5.53,"v":0.23},{"c":2,"s":1,"x":5.56,"v":0.18},{"c":2,"s":1,"x":5.59,"v":0.11},{"c":2,"s":1,"x":5.62,"v":0.08},{"c":2,"s":1,"x":5.64,"v":0.05},
  {"c":2,"s":2,"x":5.85,"v":0},{"c":2,"s":2,"x":5.88,"v":0.12},{"c":2,"s":2,"x":5.91,"v":0.23},{"c":2,"s":2,"x":5.94,"v":0.35},{"c":2,"s":2,"x":5.97,"v":0.48},{"c":2,"s":2,"x":6.0,"v":0.6},{"c":2,"s":2,"x":6.03,"v":0.7},{"c":2,"s":2,"x":6.06,"v":0.79},{"c":2,"s":2,"x":6.09,"v":0.9},{"c":2,"s":2,"x":6.12,"v":1.03},{"c":2,"s":2,"x":6.14,"v":1.15},{"c":2,"s":2,"x":6.16,"v":1.25},{"c":2,"s":2,"x":6.18,"v":1.35},{"c":2,"s":2,"x":6.2,"v":1.43},{"c":2,"s":2,"x":6.22,"v":1.7},{"c":2,"s":2,"x":6.24,"v":2.02},{"c":2,"s":2,"x":6.25,"v":2.26},{"c":2,"s":2,"x":6.26,"v":2.18},{"c":2,"s":2,"x":6.27,"v":2.2},{"c":2,"s":2,"x":6.29,"v":2.33},{"c":2,"s":2,"x":6.3,"v":2.57},{"c":2,"s":2,"x":6.32,"v":2.55},{"c":2,"s":2,"x":6.33,"v":2.6},
  {"c":3,"s":0,"x":4.83,"v":0},{"c":3,"s":0,"x":4.86,"v":0.1},{"c":3,"s":0,"x":4.89,"v":0.15},{"c":3,"s":0,"x":4.92,"v":0.2},{"c":3,"s":0,"x":4.95,"v":0.18},{"c":3,"s":0,"x":4.98,"v":0.22},{"c":3,"s":0,"x":5.01,"v":0.23},{"c":3,"s":0,"x":5.04,"v":0.2},{"c":3,"s":0,"x":5.07,"v":0.23},{"c":3,"s":0,"x":5.1,"v":0.1},{"c":3,"s":0,"x":5.13,"v":0.12},{"c":3,"s":0,"x":5.16,"v":0.1},{"c":3,"s":0,"x":5.19,"v":0.17},{"c":3,"s":0,"x":5.22,"v":0.15},{"c":3,"s":0,"x":5.25,"v":0.2},{"c":3,"s":0,"x":5.28,"v":0.23},{"c":3,"s":0,"x":5.31,"v":0.15},{"c":3,"s":0,"x":5.34,"v":0.08},{"c":3,"s":0,"x":5.36,"v":0.05},{"c":3,"s":0,"x":5.39,"v":0.1},{"c":3,"s":0,"x":5.42,"v":0.2},{"c":3,"s":0,"x":5.45,"v":0.32},{"c":3,"s":0,"x":5.48,"v":0.4},{"c":3,"s":0,"x":5.51,"v":0.48},{"c":3,"s":0,"x":5.54,"v":0.55},{"c":3,"s":0,"x":5.57,"v":0.6},{"c":3,"s":0,"x":5.6,"v":0.7},{"c":3,"s":0,"x":5.63,"v":0.79},{"c":3,"s":0,"x":5.66,"v":0.72},{"c":3,"s":0,"x":5.69,"v":0.7},{"c":3,"s":0,"x":5.72,"v":0.69},{"c":3,"s":0,"x":5.75,"v":0.76},{"c":3,"s":0,"x":5.78,"v":0.82},{"c":3,"s":0,"x":5.81,"v":0.91},{"c":3,"s":0,"x":5.83,"v":0.88},{"c":3,"s":0,"x":5.85,"v":0.85},{"c":3,"s":0,"x":5.87,"v":0.7},{"c":3,"s":0,"x":5.9,"v":0.54},{"c":3,"s":0,"x":5.92,"v":0.5},{"c":3,"s":0,"x":5.94,"v":0.45},{"c":3,"s":0,"x":5.96,"v":0.3},{"c":3,"s":0,"x":5.98,"v":0.23},{"c":3,"s":0,"x":6.0,"v":0.12},{"c":3,"s":0,"x":6.02,"v":0.05}
 ]
},
"resolve": {"scale": {"color": "independent"}, "legend": {"color": "independent"}},
"vconcat": [
 {
  "width": 536, "height": 324,
  "resolve": {"scale": {"y": "independent", "color": "independent"}},
  "layer": [
   {"layer": [
     {"data": {"name": "mwdA"}, "mark": {"type": "line", "strokeWidth": 2, "interpolate": "monotone"},
      "encoding": {
       "x": {"field": "x", "type": "quantitative", "title": "Log Molecular Weight", "scale": {"domain": [2.4, 7.4], "nice": false, "zero": false}, "axis": {"values": [2.4, 2.9, 3.4, 3.9, 4.4, 4.9, 5.4, 5.9, 6.4, 6.9, 7.4], "format": ".1f"}},
       "y": {"field": "y", "type": "quantitative", "title": "dW/dLog(M) (univ)", "scale": {"domain": [0, 0.6], "nice": false}, "axis": {"orient": "left", "values": [0, 0.1, 0.2, 0.3, 0.4, 0.5, 0.6], "format": ".1f"}},
       "color": {"field": "c", "type": "nominal", "scale": {"domain": [0, 1, 2, 3, 4, 5], "range": ["#2323b5", "#34417a", "#1f9270", "#1b6e22", "#ec6f2c", "#e0284f"]},
        "legend": {"legendX": 12, "legendY": 32, "labelExpr": "['0.00 ppm / 0.00 mol. eq. TEB','0.05 ppm / 0.19 mol. eq. TEB','0.15 ppm / 0.59 mol. eq. TEB','0.30 ppm / 1.17 mol. eq. TEB','1.50 ppm / 5.86 mol. eq. TEB','3.00 ppm / 11.72 mol. eq. TEB'][datum.value]"}}
      }},
     {"data": {"values": [{"x": 3.31, "x2": 3.61, "y": 0.248}]}, "mark": {"type": "rule", "color": "#000", "strokeWidth": 1.2},
      "encoding": {"x": {"field": "x", "type": "quantitative", "title": "Log Molecular Weight"}, "x2": {"field": "x2"}, "y": {"field": "y", "type": "quantitative", "title": "dW/dLog(M) (univ)"}}},
     {"data": {"values": [{"x": 3.31, "y": 0.248}]}, "mark": {"type": "point", "shape": "triangle-left", "filled": true, "color": "#000", "size": 45, "opacity": 1},
      "encoding": {"x": {"field": "x", "type": "quantitative", "title": "Log Molecular Weight"}, "y": {"field": "y", "type": "quantitative", "title": "dW/dLog(M) (univ)"}}},
     {"data": {"values": [{"x": 2.493, "y": 0.578, "t": "A)"}]}, "mark": {"type": "text", "align": "left", "baseline": "middle", "fontSize": 28, "fontWeight": "bold", "color": "#000"},
      "encoding": {"x": {"field": "x", "type": "quantitative", "title": "Log Molecular Weight"}, "y": {"field": "y", "type": "quantitative", "title": "dW/dLog(M) (univ)"}, "text": {"field": "t"}}}
   ]},
   {"layer": [
     {"data": {"name": "scbA"}, "mark": {"type": "line", "strokeWidth": 1.8},
      "encoding": {
       "x": {"field": "x", "type": "quantitative", "title": "Log Molecular Weight"},
       "y": {"field": "v", "type": "quantitative", "title": "SCB / 1000C (univ)", "scale": {"domain": [0, 3], "nice": false}, "axis": {"orient": "right", "values": [0, 1, 2, 3], "format": "d"}},
       "color": {"field": "c", "type": "nominal", "scale": {"domain": [0, 1, 2, 3, 4, 5], "range": ["#1515e8", "#34417a", "#1f9270", "#1b6e22", "#ec6f2c", "#e0284f"]}, "legend": null},
       "detail": {"field": "s"}
      }},
     {"data": {"values": [{"x": 6.41, "x2": 6.71, "v": 1.19}]}, "mark": {"type": "rule", "color": "#000", "strokeWidth": 1.2},
      "encoding": {"x": {"field": "x", "type": "quantitative", "title": "Log Molecular Weight"}, "x2": {"field": "x2"}, "y": {"field": "v", "type": "quantitative", "title": "SCB / 1000C (univ)"}}},
     {"data": {"values": [{"x": 6.71, "v": 1.19}]}, "mark": {"type": "point", "shape": "triangle-right", "filled": true, "color": "#000", "size": 45, "opacity": 1},
      "encoding": {"x": {"field": "x", "type": "quantitative", "title": "Log Molecular Weight"}, "y": {"field": "v", "type": "quantitative", "title": "SCB / 1000C (univ)"}}}
   ]}
  ]
 },
 {
  "width": 536, "height": 324,
  "resolve": {"scale": {"y": "independent", "color": "independent"}},
  "layer": [
   {"layer": [
     {"data": {"name": "mwdB"}, "mark": {"type": "line", "strokeWidth": 2, "interpolate": "monotone"},
      "encoding": {
       "x": {"field": "x", "type": "quantitative", "title": "Log Molecular Weight", "scale": {"domain": [2.4, 7.4], "nice": false, "zero": false}, "axis": {"values": [2.4, 2.9, 3.4, 3.9, 4.4, 4.9, 5.4, 5.9, 6.4, 6.9, 7.4], "format": ".1f"}},
       "y": {"field": "y", "type": "quantitative", "title": "dW/dLog(M) (univ)", "scale": {"domain": [0, 0.6], "nice": false}, "axis": {"orient": "left", "values": [0, 0.1, 0.2, 0.3, 0.4, 0.5, 0.6], "format": ".1f"}},
       "color": {"field": "c", "type": "nominal", "scale": {"domain": [0, 1, 2, 3, 4, 5], "range": ["#2323b5", "#34417a", "#1f9270", "#1b6e22", "#ec6f2c", "#e0284f"]},
        "legend": {"legendX": 12, "legendY": 49, "labelExpr": "['0.00 ppm / 0.00 mol. eq. TEAl','0.05 ppm / 0.07 mol. eq. TEAl','0.15 ppm / 0.23 mol. eq. TEAl','0.30 ppm / 0.47 mol. eq. TEAl','1.50 ppm / 2.35 mol. eq. TEAl','3.00 ppm / 4.70 mol. eq. TEAl'][datum.value]"}}
      }},
     {"data": {"values": [{"x": 3.12, "x2": 3.42, "y": 0.19}]}, "mark": {"type": "rule", "color": "#000", "strokeWidth": 1.2},
      "encoding": {"x": {"field": "x", "type": "quantitative", "title": "Log Molecular Weight"}, "x2": {"field": "x2"}, "y": {"field": "y", "type": "quantitative", "title": "dW/dLog(M) (univ)"}}},
     {"data": {"values": [{"x": 3.12, "y": 0.19}]}, "mark": {"type": "point", "shape": "triangle-left", "filled": true, "color": "#000", "size": 45, "opacity": 1},
      "encoding": {"x": {"field": "x", "type": "quantitative", "title": "Log Molecular Weight"}, "y": {"field": "y", "type": "quantitative", "title": "dW/dLog(M) (univ)"}}},
     {"data": {"values": [{"x": 2.493, "y": 0.578, "t": "B)"}]}, "mark": {"type": "text", "align": "left", "baseline": "middle", "fontSize": 28, "fontWeight": "bold", "color": "#000"},
      "encoding": {"x": {"field": "x", "type": "quantitative", "title": "Log Molecular Weight"}, "y": {"field": "y", "type": "quantitative", "title": "dW/dLog(M) (univ)"}, "text": {"field": "t"}}}
   ]},
   {"layer": [
     {"data": {"name": "scbB"}, "mark": {"type": "line", "strokeWidth": 1.8},
      "encoding": {
       "x": {"field": "x", "type": "quantitative", "title": "Log Molecular Weight"},
       "y": {"field": "v", "type": "quantitative", "title": "SCB / 1000C (univ)", "scale": {"domain": [0, 3], "nice": false}, "axis": {"orient": "right", "values": [0, 1, 2, 3], "format": "d"}},
       "color": {"field": "c", "type": "nominal", "scale": {"domain": [0, 1, 2, 3, 4, 5], "range": ["#1515e8", "#34417a", "#1f9270", "#1b6e22", "#ec6f2c", "#e0284f"]}, "legend": null},
       "detail": {"field": "s"}
      }},
     {"data": {"values": [{"x": 6.29, "x2": 6.58, "v": 1.96}]}, "mark": {"type": "rule", "color": "#000", "strokeWidth": 1.2},
      "encoding": {"x": {"field": "x", "type": "quantitative", "title": "Log Molecular Weight"}, "x2": {"field": "x2"}, "y": {"field": "v", "type": "quantitative", "title": "SCB / 1000C (univ)"}}},
     {"data": {"values": [{"x": 6.58, "v": 1.96}]}, "mark": {"type": "point", "shape": "triangle-right", "filled": true, "color": "#000", "size": 45, "opacity": 1},
      "encoding": {"x": {"field": "x", "type": "quantitative", "title": "Log Molecular Weight"}, "y": {"field": "v", "type": "quantitative", "title": "SCB / 1000C (univ)"}}}
   ]}
  ]
 }
]
}
